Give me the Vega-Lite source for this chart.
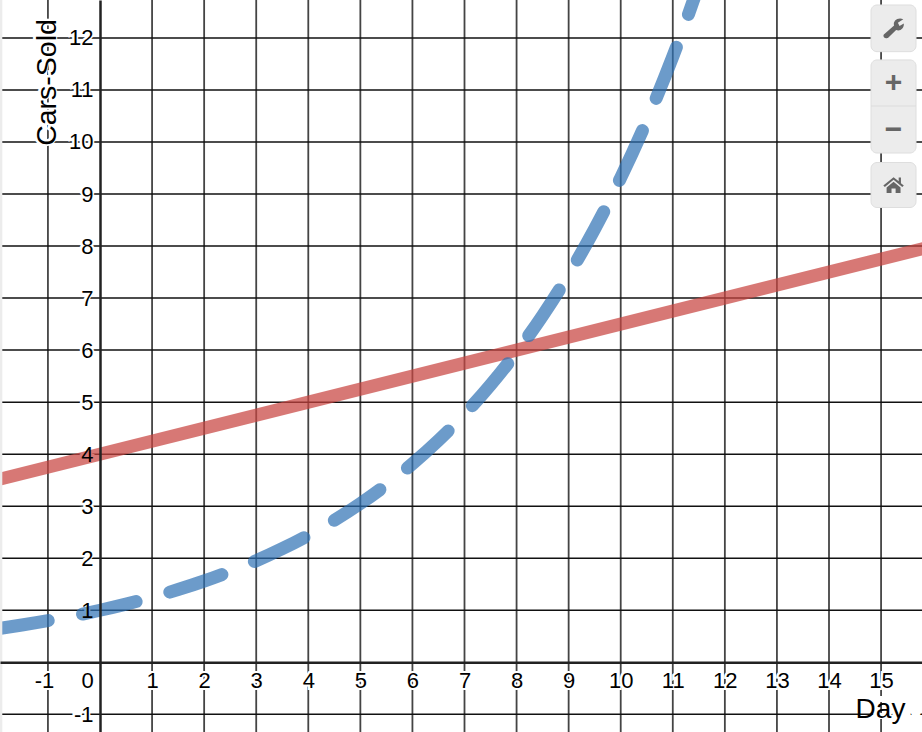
{
"$schema":"https://vega.github.io/schema/vega-lite/v6.json",
"width":922,"height":732,"padding":0,"autosize":{"type":"none"},"background":"white",
"config":{"view":{"stroke":null},"text":{"font":"Liberation Sans"},"axis":{"labelFont":"Liberation Sans","titleFont":"Liberation Sans","labelColor":"#000","titleColor":"#000","titleFontWeight":"normal"}},
"datasets":{
"xgrid":[{"x":-1},{"x":1},{"x":2},{"x":3},{"x":4},{"x":5},{"x":6},{"x":7},{"x":8},{"x":9},{"x":10},{"x":11},{"x":12},{"x":13},{"x":14},{"x":15}],
"ygrid":[{"y":-1},{"y":1},{"y":2},{"y":3},{"y":4},{"y":5},{"y":6},{"y":7},{"y":8},{"y":9},{"y":10},{"y":11},{"y":12}],
"curve":[{"x":-2,"y":0.64},{"x":-1.5,"y":0.716},{"x":-1,"y":0.8},{"x":-0.5,"y":0.894},{"x":0,"y":1},{"x":0.5,"y":1.118},{"x":1,"y":1.25},{"x":1.5,"y":1.398},{"x":2,"y":1.5625},{"x":2.5,"y":1.747},{"x":3,"y":1.953},{"x":3.5,"y":2.184},{"x":4,"y":2.441},{"x":4.5,"y":2.729},{"x":5,"y":3.052},{"x":5.5,"y":3.412},{"x":6,"y":3.815},{"x":6.5,"y":4.265},{"x":7,"y":4.768},{"x":7.5,"y":5.331},{"x":8,"y":5.96},{"x":8.5,"y":6.664},{"x":9,"y":7.451},{"x":9.5,"y":8.33},{"x":10,"y":9.313},{"x":10.5,"y":10.41},{"x":11,"y":11.64},{"x":11.5,"y":13.02},{"x":12,"y":14.55}],
"straight":[{"x":-2,"y":3.5},{"x":16,"y":8}],
"haloX":[{"x":-1.08,"y":-0.35,"label":"-1"},{"x":-0.25,"y":-0.35,"label":"0"},{"x":1,"y":-0.35,"label":"1"},{"x":2,"y":-0.35,"label":"2"},{"x":3,"y":-0.35,"label":"3"},{"x":4,"y":-0.35,"label":"4"},{"x":5,"y":-0.35,"label":"5"},{"x":6,"y":-0.35,"label":"6"},{"x":7,"y":-0.35,"label":"7"},{"x":8,"y":-0.35,"label":"8"},{"x":9,"y":-0.35,"label":"9"},{"x":10,"y":-0.35,"label":"10"},{"x":11,"y":-0.35,"label":"11"},{"x":12,"y":-0.35,"label":"12"},{"x":13,"y":-0.35,"label":"13"},{"x":14,"y":-0.35,"label":"14"},{"x":15,"y":-0.35,"label":"15"}],
"haloY":[{"x":-0.134,"y":-1,"label":"-1"},{"x":-0.134,"y":1,"label":"1"},{"x":-0.134,"y":2,"label":"2"},{"x":-0.134,"y":3,"label":"3"},{"x":-0.134,"y":4,"label":"4"},{"x":-0.134,"y":5,"label":"5"},{"x":-0.134,"y":6,"label":"6"},{"x":-0.134,"y":7,"label":"7"},{"x":-0.134,"y":8,"label":"8"},{"x":-0.134,"y":9,"label":"9"},{"x":-0.134,"y":10,"label":"10"},{"x":-0.134,"y":11,"label":"11"},{"x":-0.134,"y":12,"label":"12"}],
"buttons":[{"x":14.807,"x2":15.671,"y":12.633,"y2":11.736},{"x":14.807,"x2":15.671,"y":11.577,"y2":9.788},{"x":14.807,"x2":15.671,"y":9.606,"y2":8.741}]
},
"layer":[
{"data":{"name":"xgrid"},"mark":{"type":"rule","color":"#444","strokeWidth":1.8,"clip":true},
 "encoding":{"x":{"field":"x","type":"quantitative","scale":{"domain":[-1.9205,15.786],"nice":false,"zero":false},
  "axis":{"values":[-1,0,1,2,3,4,5,6,7,8,9,10,11,12,13,14,15],"orient":"bottom","offset":-69.7,"grid":false,"ticks":false,"zindex":1,"domainColor":"#222","domainWidth":2.5,"labelFontSize":22,"labelBaseline":"middle","labelPadding":18,"labelFlush":false,"labelOverlap":false,"labelExpr":"''+datum.value","labelOffset":{"condition":[{"test":"datum.value===0","value":-13},{"test":"datum.value===-1","value":-4}],"value":0},"title":"Day","titleFontSize":28,"titleX":880,"titleY":55,"titleAlign":"center","titleBaseline":"alphabetic"}}}},
{"data":{"name":"ygrid"},"mark":{"type":"rule","color":"#111","strokeWidth":1.5,"clip":true},
 "encoding":{"y":{"field":"y","type":"quantitative","scale":{"domain":[-1.3396,12.729],"nice":false,"zero":false},
  "axis":{"values":[-1,1,2,3,4,5,6,7,8,9,10,11,12],"orient":"left","offset":-100,"grid":false,"ticks":false,"zindex":1,"domainColor":"#222","domainWidth":2.5,"labelFontSize":22,"labelBaseline":"middle","labelPadding":7,"labelFlush":false,"labelOverlap":false,"labelExpr":"''+datum.value","title":"Cars-Sold","titleFontSize":28.5,"titleAngle":270,"titleX":-45,"titleY":82,"titleAlign":"center","titleBaseline":"alphabetic"}}}},
{"data":{"name":"haloX"},"mark":{"type":"text","fontSize":22,"align":"center","baseline":"middle","stroke":"white","strokeWidth":4,"fill":"white"},
 "encoding":{"x":{"field":"x","type":"quantitative"},"y":{"field":"y","type":"quantitative"},"text":{"field":"label"}}},
{"data":{"name":"haloY"},"mark":{"type":"text","fontSize":22,"align":"right","baseline":"middle","stroke":"white","strokeWidth":4,"fill":"white"},
 "encoding":{"x":{"field":"x","type":"quantitative"},"y":{"field":"y","type":"quantitative"},"text":{"field":"label"}}},
{"data":{"values":[{"x":15.32,"y":-1.055,"label":"Day"}]},"mark":{"type":"text","fontSize":28,"align":"center","baseline":"alphabetic","stroke":"white","strokeWidth":4,"fill":"white"},
 "encoding":{"x":{"field":"x","type":"quantitative"},"y":{"field":"y","type":"quantitative"},"text":{"field":"label"}}},
{"data":{"values":[{"x":-0.865,"y":11.15,"label":"Cars-Sold"}]},"mark":{"type":"text","fontSize":28.5,"angle":270,"align":"center","baseline":"alphabetic","stroke":"white","strokeWidth":4,"fill":"white"},
 "encoding":{"x":{"field":"x","type":"quantitative"},"y":{"field":"y","type":"quantitative"},"text":{"field":"label"}}},
{"data":{"name":"straight"},"mark":{"type":"line","color":"#c74440","opacity":0.72,"strokeWidth":13,"clip":true},
 "encoding":{"x":{"field":"x","type":"quantitative"},"y":{"field":"y","type":"quantitative"}}},
{"data":{"name":"curve"},"mark":{"type":"line","color":"#2d70b3","opacity":0.7,"strokeWidth":13,"strokeCap":"round","strokeDash":[55,35],"strokeDashOffset":2,"interpolate":"monotone","clip":true},
 "encoding":{"x":{"field":"x","type":"quantitative"},"y":{"field":"y","type":"quantitative"}}},
{"data":{"values":[{"x":-1.905}]},"mark":{"type":"rule","color":"#ececec","strokeWidth":3},
 "encoding":{"x":{"field":"x","type":"quantitative"}}},
{"data":{"name":"buttons"},"mark":{"type":"rect","fill":"#ececec","stroke":"#dedede","strokeWidth":1,"cornerRadius":6},
 "encoding":{"x":{"field":"x","type":"quantitative"},"x2":{"field":"x2"},"y":{"field":"y","type":"quantitative"},"y2":{"field":"y2"}}},
{"data":{"values":[{"x":14.807,"x2":15.671,"y":10.692}]},"mark":{"type":"rule","color":"#dcdcdc","strokeWidth":1},
 "encoding":{"x":{"field":"x","type":"quantitative"},"x2":{"field":"x2"},"y":{"field":"y","type":"quantitative"}}},
{"data":{"values":[{"x":15.24,"y":11.135,"label":"+"},{"x":15.24,"y":10.232,"label":"−"}]},"mark":{"type":"text","fontSize":30,"fontWeight":"bold","align":"center","baseline":"middle","fill":"#666"},
 "encoding":{"x":{"field":"x","type":"quantitative"},"y":{"field":"y","type":"quantitative"},"text":{"field":"label"}}},
{"data":{"values":[{"x":15.24,"y":12.19,"icon":"wrench"}]},"mark":{"type":"point","filled":true,"opacity":1,"fill":"#666","stroke":null,"size":420,"shape":"M-0.95,0.62 L0.05,-0.25 C-0.1,-0.7 0.45,-1.1 0.95,-0.85 L0.42,-0.52 L0.58,-0.2 L1,-0.45 C1.05,0.05 0.6,0.35 0.25,0.18 L-0.55,0.98 C-0.8,1.05 -1.1,0.85 -0.95,0.62 Z"},
 "encoding":{"x":{"field":"x","type":"quantitative"},"y":{"field":"y","type":"quantitative"}}},
{"data":{"values":[{"x":15.24,"y":9.175,"icon":"home"}]},"mark":{"type":"point","filled":true,"opacity":1,"fill":"#666","stroke":null,"size":420,"shape":"M0,-0.75 L0.5,-0.35 L0.5,-0.72 L0.72,-0.72 L0.72,-0.17 L1,0.05 L0.85,0.2 L0,-0.5 L-0.85,0.2 L-1,0.05 Z M0,-0.3 L0.68,0.25 L0.68,0.8 L0.2,0.8 L0.2,0.35 L-0.2,0.35 L-0.2,0.8 L-0.68,0.8 L-0.68,0.25 Z"},
 "encoding":{"x":{"field":"x","type":"quantitative"},"y":{"field":"y","type":"quantitative"}}}
]
}
